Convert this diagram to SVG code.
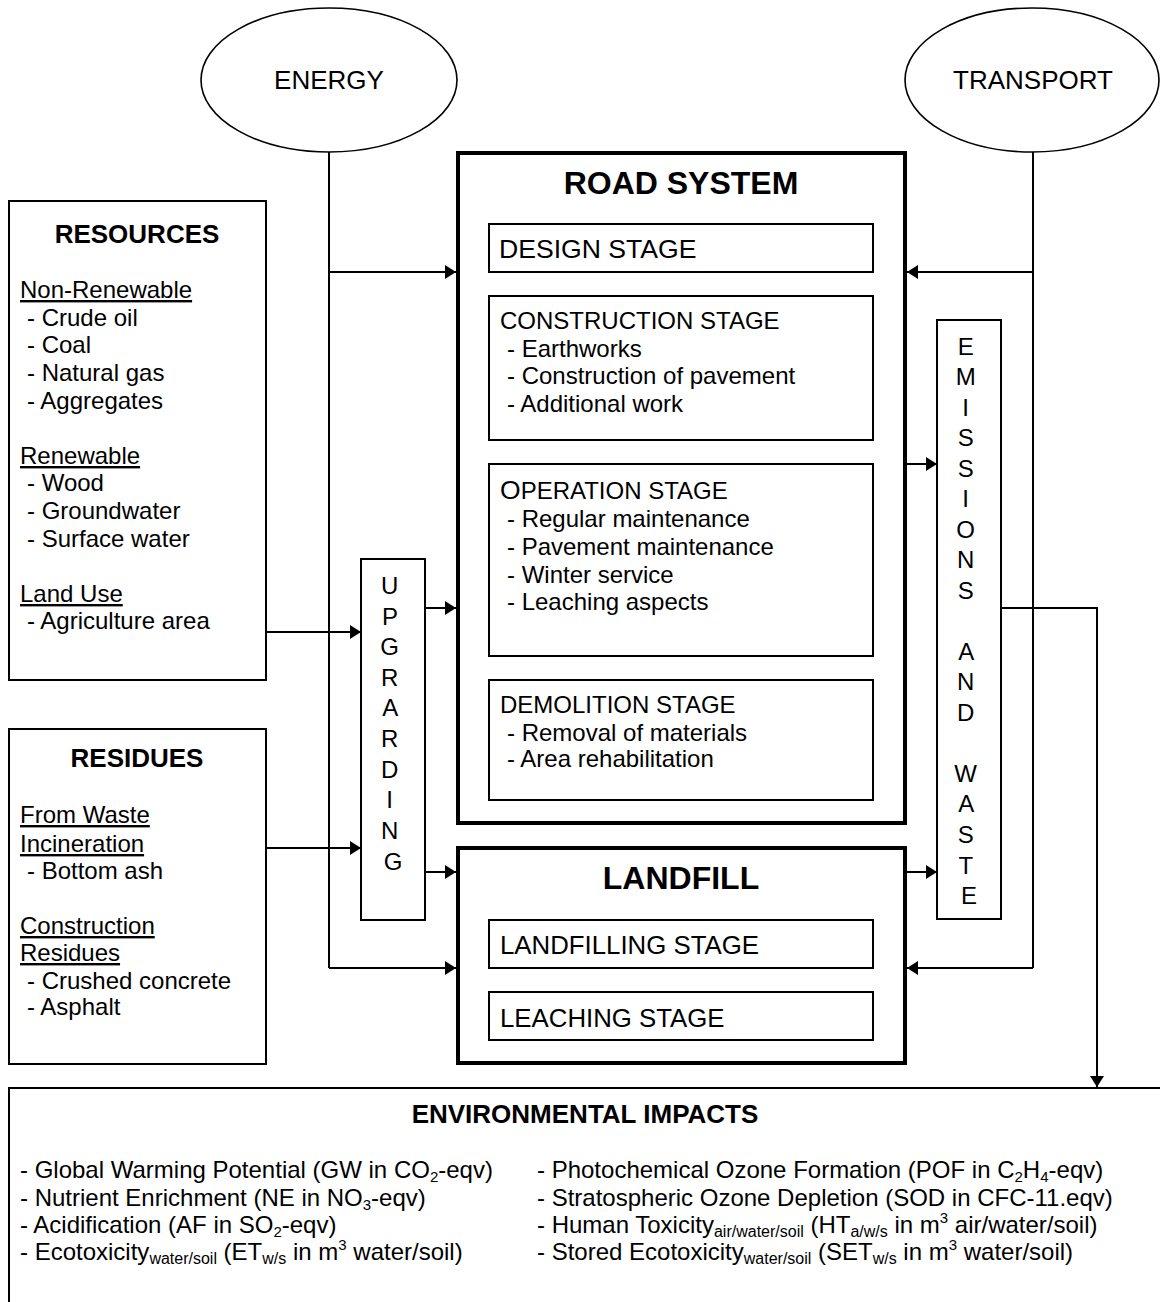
<svg xmlns="http://www.w3.org/2000/svg" width="1160" height="1302" viewBox="0 0 1160 1302">
<style>
text{font-family:"Liberation Sans",Arial,sans-serif;fill:#000}
.box{fill:#fff;stroke:#000;stroke-width:2}
.thick{fill:#fff;stroke:#000;stroke-width:4}
.ell{fill:#fff;stroke:#000;stroke-width:1.6}
.con{fill:none;stroke:#000;stroke-width:2}
.h{font-weight:bold;font-size:26px;text-anchor:middle}
.hb{font-weight:bold;font-size:32px;text-anchor:middle}
.t{font-size:24px}
.s{font-size:24px}
.sl{font-size:25.8px}
.v{font-size:24px;text-anchor:middle}
.u{text-decoration:underline}
.i{font-size:24px}
</style>
<defs>
<marker id="ah" markerUnits="userSpaceOnUse" markerWidth="11" markerHeight="14" refX="11" refY="7" orient="auto">
<path d="M0,0 L11,7 L0,14 Z" fill="#000"/>
</marker>
</defs>

<g id="connectors">
<path class="con" d="M329,152 V968"/>
<path class="con" d="M329,272 H456" marker-end="url(#ah)"/>
<path class="con" d="M329,968 H456" marker-end="url(#ah)"/>
<path class="con" d="M1033,152 V968"/>
<path class="con" d="M1033,272 H907" marker-end="url(#ah)"/>
<path class="con" d="M1033,968 H907" marker-end="url(#ah)"/>
<path class="con" d="M266,632 H361" marker-end="url(#ah)"/>
<path class="con" d="M266,848 H361" marker-end="url(#ah)"/>
<path class="con" d="M425,608 H456" marker-end="url(#ah)"/>
<path class="con" d="M425,872 H456" marker-end="url(#ah)"/>
<path class="con" d="M906,464 H937" marker-end="url(#ah)"/>
<path class="con" d="M906,872 H937" marker-end="url(#ah)"/>
<path class="con" d="M1001,608 H1097 V1087" marker-end="url(#ah)"/>
</g>

<g id="energy">
<ellipse class="ell" cx="329" cy="80" rx="128" ry="72"/>
<text x="329" y="89" font-size="26" text-anchor="middle">ENERGY</text>
</g>

<g id="transport">
<ellipse class="ell" cx="1032" cy="80" rx="127" ry="72"/>
<text x="1033" y="89" font-size="26" text-anchor="middle">TRANSPORT</text>
</g>

<g id="resources">
<rect class="box" x="9" y="201" width="257" height="479"/>
<text class="h" x="137" y="243">RESOURCES</text>
<text class="t">
<tspan class="u" x="20" y="298">Non-Renewable</tspan>
<tspan x="27" y="326">- Crude oil</tspan>
<tspan x="27" y="353">- Coal</tspan>
<tspan x="27" y="381">- Natural gas</tspan>
<tspan x="27" y="409">- Aggregates</tspan>
<tspan class="u" x="20" y="464">Renewable</tspan>
<tspan x="27" y="491">- Wood</tspan>
<tspan x="27" y="519">- Groundwater</tspan>
<tspan x="27" y="547">- Surface water</tspan>
<tspan class="u" x="20" y="602">Land Use</tspan>
<tspan x="27" y="629">- Agriculture area</tspan>
</text>
</g>

<g id="residues">
<rect class="box" x="9" y="729" width="257" height="335"/>
<text class="h" x="137" y="767">RESIDUES</text>
<text class="t">
<tspan class="u" x="20" y="823">From Waste</tspan>
<tspan class="u" x="20" y="852">Incineration</tspan>
<tspan x="27" y="879">- Bottom ash</tspan>
<tspan class="u" x="20" y="934">Construction</tspan>
<tspan class="u" x="20" y="961">Residues</tspan>
<tspan x="27" y="989">- Crushed concrete</tspan>
<tspan x="27" y="1015">- Asphalt</tspan>
</text>
</g>

<g id="upgrading">
<rect class="box" x="361" y="559" width="64" height="361"/>
<text class="v">
<tspan x="393" y="594">U</tspan>
<tspan x="393" y="625">P</tspan>
<tspan x="393" y="655">G</tspan>
<tspan x="393" y="686">R</tspan>
<tspan x="393" y="716">A</tspan>
<tspan x="393" y="747">R</tspan>
<tspan x="393" y="778">D</tspan>
<tspan x="393" y="808">I</tspan>
<tspan x="393" y="839">N</tspan>
<tspan x="393" y="870">G</tspan>
</text>
</g>

<g id="road-system">
<rect class="thick" x="458" y="153" width="447" height="670"/>
<text class="hb" x="681" y="194">ROAD SYSTEM</text>
</g>

<g id="design-stage">
<rect class="box" x="489" y="224" width="384" height="48"/>
<text x="499" y="258" font-size="26.6">DESIGN STAGE</text>
</g>

<g id="construction-stage">
<rect class="box" x="489" y="296" width="384" height="144"/>
<text class="s">
<tspan x="500" y="329">CONSTRUCTION STAGE</tspan>
<tspan x="507" y="357">- Earthworks</tspan>
<tspan x="507" y="384">- Construction of pavement</tspan>
<tspan x="507" y="412">- Additional work</tspan>
</text>
</g>

<g id="operation-stage">
<rect class="box" x="489" y="464" width="384" height="192"/>
<text class="s">
<tspan x="500" y="499"><tspan font-size="26.5">O</tspan>PERATION STAGE</tspan>
<tspan x="507" y="527">- Regular maintenance</tspan>
<tspan x="507" y="555">- Pavement maintenance</tspan>
<tspan x="507" y="583">- Winter service</tspan>
<tspan x="507" y="610">- Leaching aspects</tspan>
</text>
</g>

<g id="demolition-stage">
<rect class="box" x="489" y="680" width="384" height="120"/>
<text class="s">
<tspan x="500" y="713">DEMOLITION STAGE</tspan>
<tspan x="507" y="741">- Removal of materials</tspan>
<tspan x="507" y="767">- Area rehabilitation</tspan>
</text>
</g>

<g id="landfill">
<rect class="thick" x="458" y="848" width="447" height="215"/>
<text class="hb" x="681" y="889">LANDFILL</text>
</g>

<g id="landfilling-stage">
<rect class="box" x="489" y="920" width="384" height="48"/>
<text class="sl" x="500" y="954">LANDFILLING STAGE</text>
</g>

<g id="leaching-stage">
<rect class="box" x="489" y="992" width="384" height="48"/>
<text class="sl" x="500" y="1027">LEACHING STAGE</text>
</g>

<g id="emissions-and-waste">
<rect class="box" x="937" y="320" width="64" height="599"/>
<text class="v">
<tspan x="969" y="355">E</tspan>
<tspan x="969" y="385">M</tspan>
<tspan x="969" y="416">I</tspan>
<tspan x="969" y="446">S</tspan>
<tspan x="969" y="477">S</tspan>
<tspan x="969" y="507">I</tspan>
<tspan x="969" y="538">O</tspan>
<tspan x="969" y="568">N</tspan>
<tspan x="969" y="599">S</tspan>
<tspan x="969" y="660">A</tspan>
<tspan x="969" y="690">N</tspan>
<tspan x="969" y="721">D</tspan>
<tspan x="969" y="782">W</tspan>
<tspan x="969" y="812">A</tspan>
<tspan x="969" y="843">S</tspan>
<tspan x="969" y="874">T</tspan>
<tspan x="969" y="904">E</tspan>
</text>
</g>

<g id="environmental-impacts">
<rect class="box" x="9" y="1088" width="1170" height="240"/>
<text class="h" x="585" y="1123" font-size="26.5">ENVIRONMENTAL IMPACTS</text>
<text class="i" x="20" y="1178">- Global Warming Potential (GW in CO<tspan font-size="15" dy="4">2</tspan><tspan dy="-4">-eqv)</tspan></text>
<text class="i" x="20" y="1206">- Nutrient Enrichment (NE in NO<tspan font-size="15" dy="4">3</tspan><tspan dy="-4">-eqv)</tspan></text>
<text class="i" x="20" y="1233">- Acidification (AF in SO<tspan font-size="15" dy="4">2</tspan><tspan dy="-4">-eqv)</tspan></text>
<text class="i" x="20" y="1260">- Ecotoxicity<tspan font-size="16" dy="4">water/soil</tspan><tspan dy="-4"> (ET</tspan><tspan font-size="16" dy="4">w/s</tspan><tspan dy="-4"> in m</tspan><tspan font-size="15" dy="-10">3</tspan><tspan dy="10"> water/soil)</tspan></text>
<text class="i" x="537" y="1178">- Photochemical Ozone Formation (POF in C<tspan font-size="15" dy="4">2</tspan><tspan dy="-4">H</tspan><tspan font-size="15" dy="4">4</tspan><tspan dy="-4">-eqv)</tspan></text>
<text class="i" x="537" y="1206">- Stratospheric Ozone Depletion (SOD in CFC-11.eqv)</text>
<text class="i" x="537" y="1233">- Human Toxicity<tspan font-size="16" dy="4">air/water/soil</tspan><tspan dy="-4"> (HT</tspan><tspan font-size="16" dy="4">a/w/s</tspan><tspan dy="-4"> in m</tspan><tspan font-size="15" dy="-10">3</tspan><tspan dy="10"> air/water/soil)</tspan></text>
<text class="i" x="537" y="1260">- Stored Ecotoxicity<tspan font-size="16" dy="4">water/soil</tspan><tspan dy="-4"> (SET</tspan><tspan font-size="16" dy="4">w/s</tspan><tspan dy="-4"> in m</tspan><tspan font-size="15" dy="-10">3</tspan><tspan dy="10"> water/soil)</tspan></text>
</g>
</svg>
